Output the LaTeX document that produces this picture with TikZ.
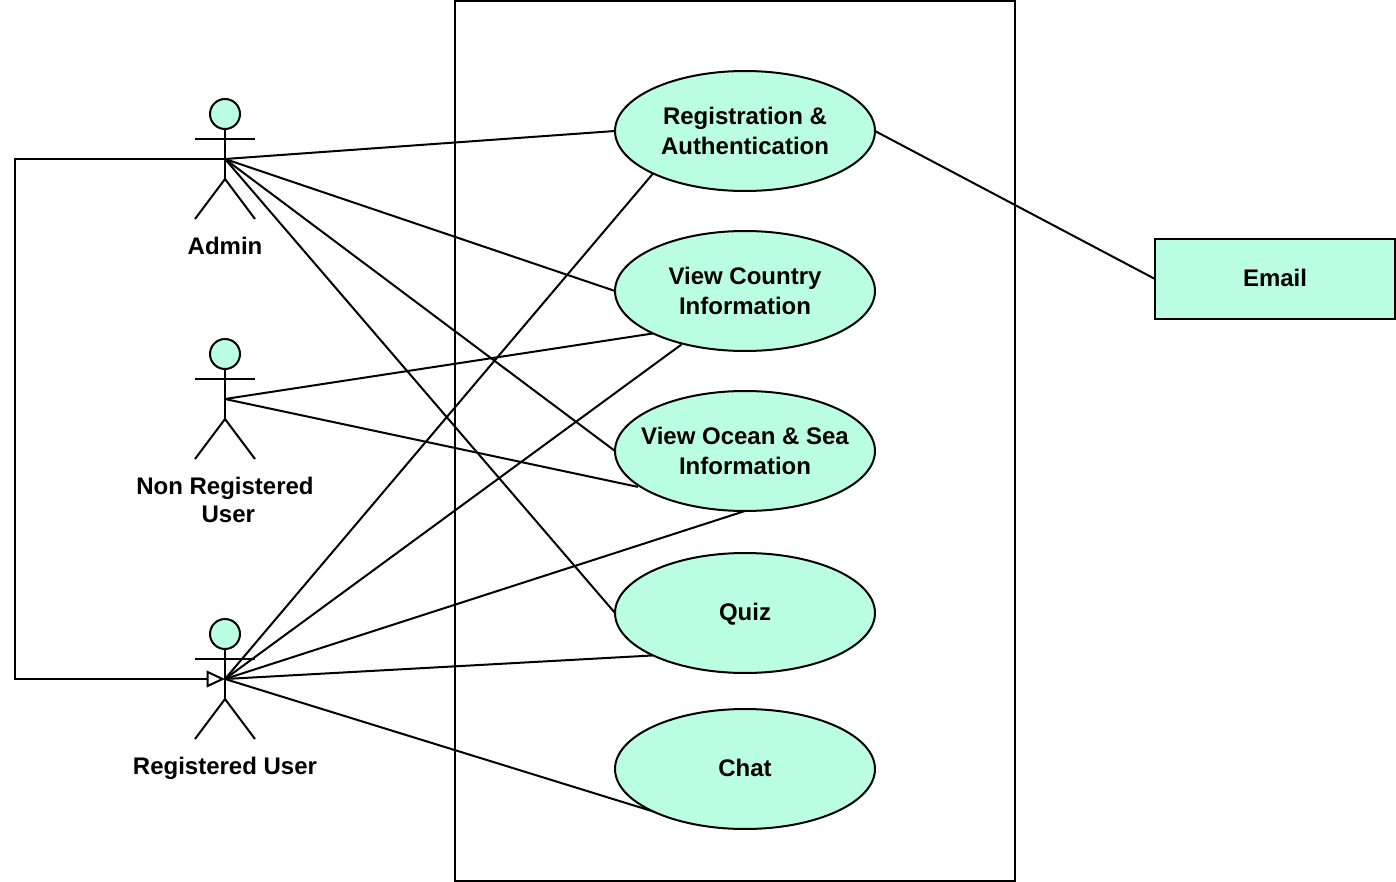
\documentclass[tikz,border=0pt]{standalone}
\usepackage{fontspec}
\setmainfont{Liberation Sans}
\usepackage{tikz}
\usetikzlibrary{arrows.meta,shapes.geometric}
\definecolor{mint}{RGB}{186,255,226}
\tikzset{usecase/.style={ellipse,draw=black,fill=mint,minimum width=5.2cm,minimum height=2.4cm,align=center,inner xsep=-0.5cm,inner ysep=0pt,outer sep=0pt,font=\fontsize{13.66}{17.07}\selectfont\bfseries},extsys/.style={rectangle,draw=black,fill=mint,minimum width=4.8cm,minimum height=1.6cm,align=center,inner sep=0pt,outer sep=0pt,font=\fontsize{13.66}{17.07}\selectfont\bfseries},actorlabel/.style={align=center,inner sep=0pt,font=\fontsize{13.66}{15.94}\selectfont\bfseries},actorhead/.style={circle,draw=black,fill=mint,minimum size=0.6cm,inner sep=0pt,outer sep=0pt},assoc/.style={draw=black},inherit/.style={-{Triangle[open,length=10.5pt,width=9.5pt]},draw=black},
pics/actor/.style={code={
\coordinate (-hub) at (0,0);
\node[actorhead] (-head) at (0,-45) {};
\draw (-head.south)--(0,20);
\draw (-30,-20)--(30,-20);
\draw (-30,60)--(0,20)--(30,60);
}}}

\begin{document}
\begin{tikzpicture}[x=0.02cm,y=-0.02cm,line width=1.14pt]
\useasboundingbox (0,0) rectangle (1396,882);
% system boundary
\node[rectangle,draw=black,minimum width=11.2cm,minimum height=17.6cm,inner sep=0pt,outer sep=0pt] (system) at (735,441) {};
% use cases
\node[usecase] (reg) at (745,131) {Registration \&\\Authentication};
\node[usecase] (country) at (745,291) {View Country\\Information};
\node[usecase] (ocean) at (745,451) {View Ocean \& Sea\\Information};
\node[usecase,text height=11pt] (quiz) at (745,613) {Quiz};
\node[usecase,text depth=1.2pt] (chat) at (745,769) {Chat};
\node[extsys,text depth=1.2pt] (email) at (1275,279) {Email};
% actors
\pic (admin) at (225,159) {actor};
\pic (guest) at (225,399) {actor};
\pic (member) at (225,679) {actor};
\node[actorlabel] (adminlabel) at (225,246) {Admin};
\node[actorlabel] (guestlabel) at (225,500) {Non Registered\\\hspace*{0.278em}User};
\node[actorlabel] (memberlabel) at (225,768) {Registered User};
% connectors
\coordinate (turnA) at (15,159);
\coordinate (turnB) at (15,679);
\draw[inherit] (admin-hub)--(turnA)--(turnB)--(member-hub);
\draw[assoc] (admin-hub)--(reg.west);
\draw[assoc] (admin-hub)--(country.west);
\draw[assoc] (admin-hub)--(ocean.west);
\draw[assoc] (admin-hub)--(quiz.west);
\draw[assoc] (guest-hub)--(country.south west);
\draw[assoc] (guest-hub)--([shift={(-3,0)}]ocean.199);
\draw[assoc] (member-hub)--(reg.south west);
\draw[assoc] (member-hub)--([shift={(-1,1)}]country.220);
\draw[assoc] (member-hub)--(ocean.south);
\draw[assoc] (member-hub)--(quiz.south west);
\draw[assoc] (member-hub)--(chat.south west);
\draw[assoc] (reg.east)--(email.west);
\end{tikzpicture}
\end{document}
